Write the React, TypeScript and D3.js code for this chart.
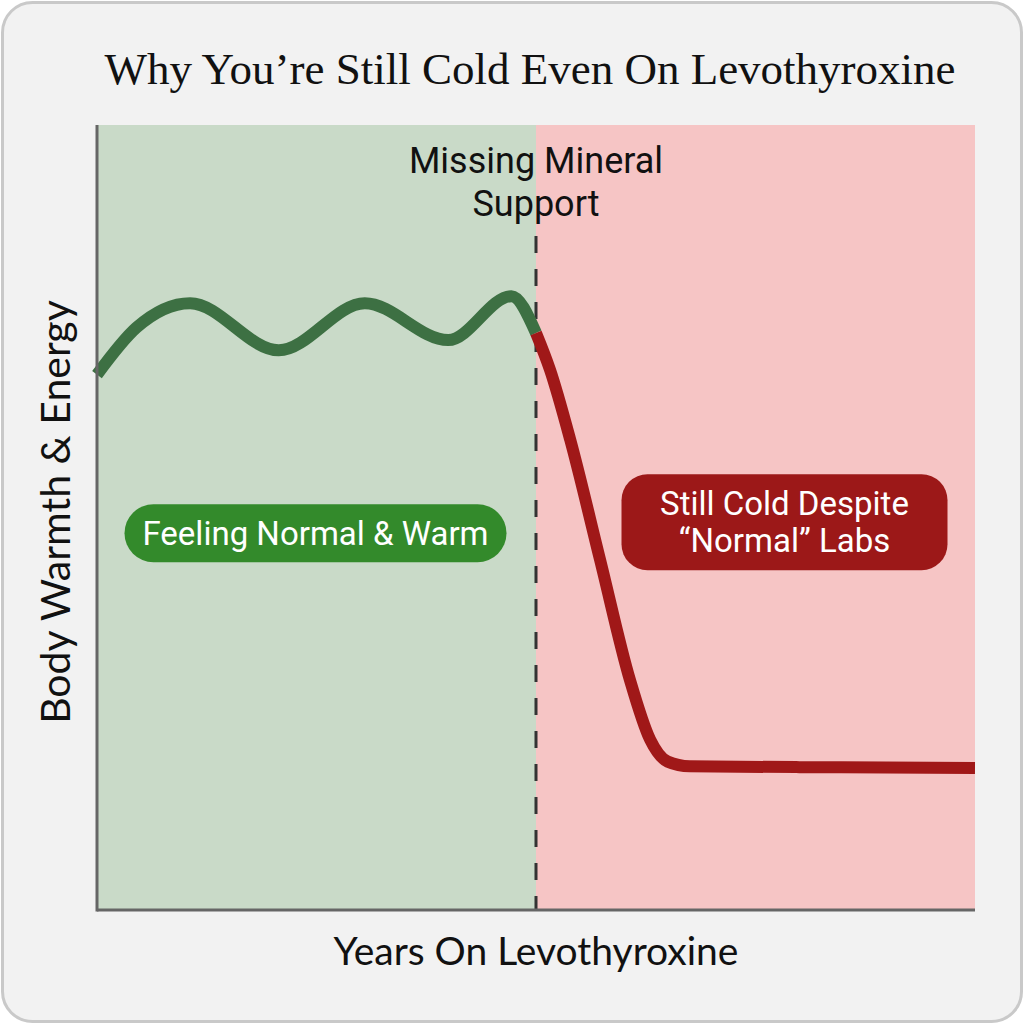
import React from "react";
import * as d3 from "d3";

const title = "Why You’re Still Cold Even On Levothyroxine";
const xAxisLabel = "Years On Levothyroxine";
const yAxisLabel = "Body Warmth & Energy";
const dividerLabel = ["Missing Mineral", "Support"];
const warmLabel = "Feeling Normal & Warm";
const coldLabel = ["Still Cold Despite", "“Normal” Labs"];

// Phase boundaries (years)
const xDomain = [0, 10];
const yDomain = [0, 100];
const turnYear = 5.0;

// Warm phase (green)
const warmYears = [0, 0.45, 1.06, 2.07, 3.05, 4.0, 4.72, 5.0];
const warmValues = [68.2, 74.2, 77.3, 71.3, 77.3, 72.6, 78.2, 73.5];

// Cold phase (red)
const coldYears = [5.0, 5.16, 5.39, 5.73, 6.07, 6.3, 6.5, 6.75, 8.0, 10.0];
const coldValues = [73.5, 68.8, 59.9, 44.6, 29.3, 21.7, 18.9, 18.3, 18.2, 18.1];

const W = 1024;
const H = 1024;
const plot = { left: 97, right: 975, top: 125, bottom: 910 };

export default function App() {
  const x = d3.scaleLinear().domain(xDomain).range([plot.left, plot.right]);
  const y = d3.scaleLinear().domain(yDomain).range([plot.bottom, plot.top]);

  const warmLine = d3
    .line<number>()
    .x((_, i) => x(warmYears[i]))
    .y((d) => y(d))
    .curve(d3.curveMonotoneX);
  const coldLine = d3
    .line<number>()
    .x((_, i) => x(coldYears[i]))
    .y((d) => y(d))
    .curve(d3.curveMonotoneX);

  const xTurn = x(turnYear);
  const sans = "Roboto, 'Noto Sans', sans-serif";
  const labelFont = "Lato, 'Noto Sans', sans-serif";

  // pill geometry
  const warmCx = (x(0) + xTurn) / 2 - 1;
  const warmCy = y(48);
  const coldCx = (xTurn + x(10)) / 2 + 29;
  const coldCy = y(49.4);

  return (
    <svg
      width={W}
      height={H}
      viewBox={`0 0 ${W} ${H}`}
      style={{ position: "absolute", left: 0, top: 0, background: "#ffffff" }}
    >
      <rect x={2.5} y={2.5} width={W - 5} height={H - 5} rx={30} ry={30} fill="#f2f2f2" stroke="#c9c9c9" strokeWidth={3} />

      <text
        x={530}
        y={84}
        textAnchor="middle"
        fontFamily="'Liberation Serif', 'DejaVu Serif', serif"
        fontSize={45}
        fill="#111"
      >
        {title}
      </text>

      {/* background regions */}
      <rect x={x(0)} y={plot.top} width={xTurn - x(0)} height={plot.bottom - plot.top} fill="#c9dac8" />
      <rect x={xTurn} y={plot.top} width={x(10) - xTurn} height={plot.bottom - plot.top} fill="#f6c5c5" />

      {/* dashed divider */}
      <line
        x1={xTurn}
        x2={xTurn}
        y1={236}
        y2={plot.bottom}
        stroke="#333"
        strokeWidth={3}
        strokeDasharray="17 16"
      />

      {/* divider label */}
      <text textAnchor="middle" fontFamily={sans} fontSize={36} fill="#111">
        <tspan x={xTurn} y={173}>{dividerLabel[0]}</tspan>
        <tspan x={xTurn} y={216}>{dividerLabel[1]}</tspan>
      </text>

      {/* curves */}
      <path d={warmLine(warmValues) || ""} fill="none" stroke="#3d7043" strokeWidth={12} />
      <path d={coldLine(coldValues) || ""} fill="none" stroke="#a01818" strokeWidth={12} />

      {/* axes */}
      <line x1={plot.left} x2={plot.left} y1={plot.top} y2={plot.bottom + 1.5} stroke="#666" strokeWidth={3} />
      <line x1={plot.left} x2={plot.right} y1={plot.bottom} y2={plot.bottom} stroke="#666" strokeWidth={3} />

      {/* warm pill */}
      <rect x={warmCx - 191} y={warmCy - 29} width={382} height={58} rx={29} fill="#338a2b" />
      <text x={warmCx} y={warmCy + 11.5} textAnchor="middle" fontFamily={sans} fontSize={33} fill="#fff">
        {warmLabel}
      </text>

      {/* cold pill */}
      <rect x={coldCx - 163} y={coldCy - 48} width={326} height={96} rx={26} fill="#9c1818" />
      <text textAnchor="middle" fontFamily={sans} fontSize={33} fill="#fff">
        <tspan x={coldCx} y={coldCy - 7.5}>{coldLabel[0]}</tspan>
        <tspan x={coldCx} y={coldCy + 29.5}>{coldLabel[1]}</tspan>
      </text>

      {/* axis labels */}
      <text x={536} y={965} textAnchor="middle" fontFamily={labelFont} fontSize={39} fill="#111">
        {xAxisLabel}
      </text>
      <text
        transform={`translate(70, ${512}) rotate(-90)`}
        textAnchor="middle"
        fontFamily={labelFont}
        fontSize={41}
        fill="#111"
      >
        {yAxisLabel}
      </text>
    </svg>
  );
}
